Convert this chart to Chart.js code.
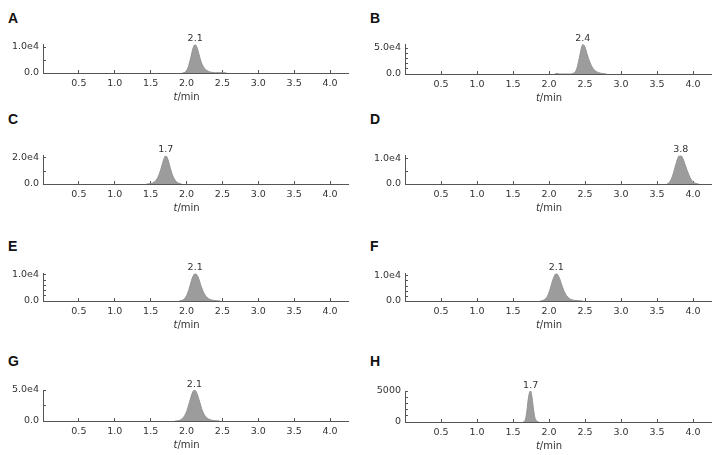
<!DOCTYPE html>
<html>
<head>
<meta charset="utf-8">
<script src="https://cdn.jsdelivr.net/npm/chart.js@4.4.1/dist/chart.umd.min.js"></script>
<style>
body{margin:0;background:#fff;}
#wrap{position:relative;width:724px;height:455px;overflow:hidden;}
.panel{position:absolute;}
.letter{position:absolute;font:bold 14px "Liberation Sans",Arial,sans-serif;color:#111;line-height:1;}
</style>
</head>
<body>
<div id="wrap"></div>
<script>
// panel info
const letters = ['A', 'B', 'C', 'D', 'E', 'F', 'G', 'H'];
const peakLabels = ['2.1', '2.4', '1.7', '3.8', '2.1', '2.1', '2.1', '1.7'];
const peakTimes = [2.12, 2.47, 1.71, 3.83, 2.12, 2.10, 2.11, 1.745];
const yTopTicks = [10000, 50000, 20000, 10000, 10000, 10000, 50000, 5000];
const yTopLabels = ['1.0e4', '5.0e4', '2.0e4', '1.0e4', '1.0e4', '1.0e4', '5.0e4', '5000'];
const yZeroLabels = ['0.0', '0.0', '0.0', '0.0', '0.0', '0.0', '0.0', '0'];
const yMinorSteps = [5000, 10000, 10000, 5000, 2000, 2000, 25000, 1000];
const yMaxes = [11000, 57000, 21800, 11200, 10600, 11000, 50000, 5000];
const xTicks = [0.5, 1.0, 1.5, 2.0, 2.5, 3.0, 3.5, 4.0];

// chromatograms (t in min, intensity)
const timeA = [1.94, 1.98, 2.02, 2.06, 2.09, 2.12, 2.15, 2.18, 2.21, 2.25, 2.30, 2.35, 2.40, 2.50, 2.56];
const intA  = [0, 300, 2000, 6000, 9500, 11000, 9500, 6500, 3800, 1800, 700, 250, 120, 80, 0];
const timeB = [2.08, 2.11, 2.14, 2.30, 2.34, 2.38, 2.42, 2.45, 2.47, 2.50, 2.53, 2.57, 2.61, 2.66, 2.72, 2.80];
const intB  = [0, 1200, 0, 0, 1500, 8000, 30000, 50000, 57000, 52000, 38000, 22000, 11000, 4500, 1500, 0];
const timeC = [1.44, 1.50, 1.55, 1.60, 1.64, 1.68, 1.71, 1.74, 1.77, 1.80, 1.84, 1.88, 1.93];
const intC  = [0, 300, 1500, 5000, 11000, 18500, 21800, 19000, 13000, 7500, 3000, 900, 0];
const timeD = [3.64, 3.68, 3.72, 3.76, 3.80, 3.83, 3.86, 3.90, 3.94, 3.98, 4.03, 4.08];
const intD  = [0, 1000, 3500, 7500, 10800, 11200, 10000, 6800, 3800, 1500, 300, 0];
const timeE = [1.90, 1.95, 2.00, 2.04, 2.08, 2.12, 2.16, 2.20, 2.24, 2.29, 2.35, 2.42, 2.47];
const intE  = [0, 400, 2000, 5000, 8800, 10600, 9300, 6000, 3200, 1300, 400, 100, 0];
const timeF = [1.88, 1.93, 1.98, 2.02, 2.06, 2.10, 2.14, 2.18, 2.22, 2.27, 2.33, 2.42, 2.47];
const intF  = [0, 400, 2000, 5200, 9000, 11000, 9500, 6200, 3300, 1300, 400, 100, 0];
const timeG = [1.84, 1.90, 1.95, 2.00, 2.04, 2.08, 2.11, 2.14, 2.18, 2.22, 2.27, 2.33, 2.40, 2.46];
const intG  = [0, 1000, 5000, 15000, 30000, 45000, 50000, 46000, 32000, 17000, 6500, 2000, 500, 0];
const timeH = [1.64, 1.67, 1.69, 1.71, 1.73, 1.745, 1.76, 1.78, 1.80, 1.83, 1.86];
const intH  = [0, 300, 1500, 3500, 4800, 5000, 4300, 2500, 900, 150, 0];

const times = [timeA, timeB, timeC, timeD, timeE, timeF, timeG, timeH];
const ints = [intA, intB, intC, intD, intE, intF, intG, intH];

// layout (pixels in the page)
const axisY = [73, 74, 184, 184, 301, 301, 421, 422];
const topTickY = [47, 48, 158, 158.5, 275, 276, 390, 391];
const letterY = [12, 12, 113, 113, 240, 240, 355, 355];

const AXIS = '#555';
const FONT = '"DejaVu Sans", Verdana, sans-serif';

const peakText = {
    id: 'peakText',
    afterDatasetsDraw(chart, args, opts) {
        const {ctx, chartArea, scales: {x, y}} = chart;
        ctx.save();
        ctx.fillStyle = '#333';
        ctx.font = '9.5px ' + FONT;
        ctx.textAlign = 'center';
        ctx.textBaseline = 'bottom';
        ctx.fillText(opts.label, x.getPixelForValue(opts.t), y.getPixelForValue(opts.peak) - 1);

        // axis title "t/min" with italic t
        ctx.textAlign = 'left';
        ctx.textBaseline = 'middle';
        ctx.font = 'italic 10px ' + FONT;
        const wt = ctx.measureText('t').width;
        ctx.font = '10px ' + FONT;
        const wm = ctx.measureText('/min').width;
        const cx = x.getPixelForValue(2.0);
        const ty = chartArea.bottom + 24.5;
        const sx = cx - (wt + wm) / 2;
        ctx.font = 'italic 10px ' + FONT;
        ctx.fillText('t', sx, ty);
        ctx.font = '10px ' + FONT;
        ctx.fillText('/min', sx + wt, ty);
        ctx.restore();
    }
};

const wrap = document.getElementById('wrap');

letters.forEach((letter, i) => {
    const col = i % 2;
    const left = col * 362;
    const top = axisY[i] - 45;
    const padTop = 45 - (yMaxes[i] / yTopTicks[i]) * (axisY[i] - topTickY[i]);

    const lab = document.createElement('div');
    lab.className = 'letter';
    lab.textContent = letter;
    lab.style.left = (left + 8) + 'px';
    lab.style.top = (letterY[i] - 1) + 'px';
    wrap.appendChild(lab);

    const div = document.createElement('div');
    div.className = 'panel';
    div.style.left = left + 'px';
    div.style.top = top + 'px';
    const canvas = document.createElement('canvas');
    canvas.width = 362;
    canvas.height = 80;
    div.appendChild(canvas);
    wrap.appendChild(div);

    const top0 = yTopTicks[i];
    const step = yMinorSteps[i];

    new Chart(canvas.getContext('2d'), {
        type: 'line',
        data: {
            datasets: [{
                data: times[i].map((t, k) => ({x: t, y: ints[i][k]})),
                fill: 'origin',
                backgroundColor: '#9c9c9c',
                borderColor: '#939393',
                borderWidth: 1,
                pointRadius: 0,
                cubicInterpolationMode: 'monotone'
            }]
        },
        options: {
            responsive: false,
            animation: false,
            layout: {padding: {left: 0, right: col ? 13 : 14, top: padTop, bottom: 0}},
            plugins: {
                legend: {display: false},
                tooltip: {enabled: false},
                peakText: {label: peakLabels[i], t: peakTimes[i], peak: Math.max(...ints[i])}
            },
            scales: {
                x: {
                    type: 'linear',
                    min: 0,
                    max: 4.25,
                    afterBuildTicks: (s) => { s.ticks = xTicks.map(v => ({value: v})); },
                    afterFit: (s) => { s.height = 35; },
                    border: {color: AXIS, width: 1},
                    grid: {drawOnChartArea: false, drawTicks: true, tickLength: -3, color: AXIS},
                    ticks: {
                        color: '#333',
                        font: {family: FONT, size: 9.5},
                        padding: 8,
                        maxRotation: 0,
                        callback: (v) => Number(v).toFixed(1)
                    }
                },
                y: {
                    type: 'linear',
                    min: 0,
                    max: yMaxes[i],
                    afterBuildTicks: (s) => {
                        const arr = [];
                        for (let v = 0; v <= top0 + 1e-6; v += step) arr.push({value: v});
                        s.ticks = arr;
                    },
                    afterFit: (s) => { s.width = 43; },
                    border: {color: AXIS, width: 1},
                    grid: {drawOnChartArea: false, drawTicks: true, tickLength: -3, color: AXIS},
                    ticks: {
                        color: '#333',
                        font: {family: FONT, size: 9.5},
                        padding: 7,
                        autoSkip: false,
                        callback: (v) => v === 0 ? yZeroLabels[i] : (Math.abs(v - top0) < 1e-6 ? yTopLabels[i] : '')
                    }
                }
            }
        },
        plugins: [peakText]
    });
});
</script>
</body>
</html>
